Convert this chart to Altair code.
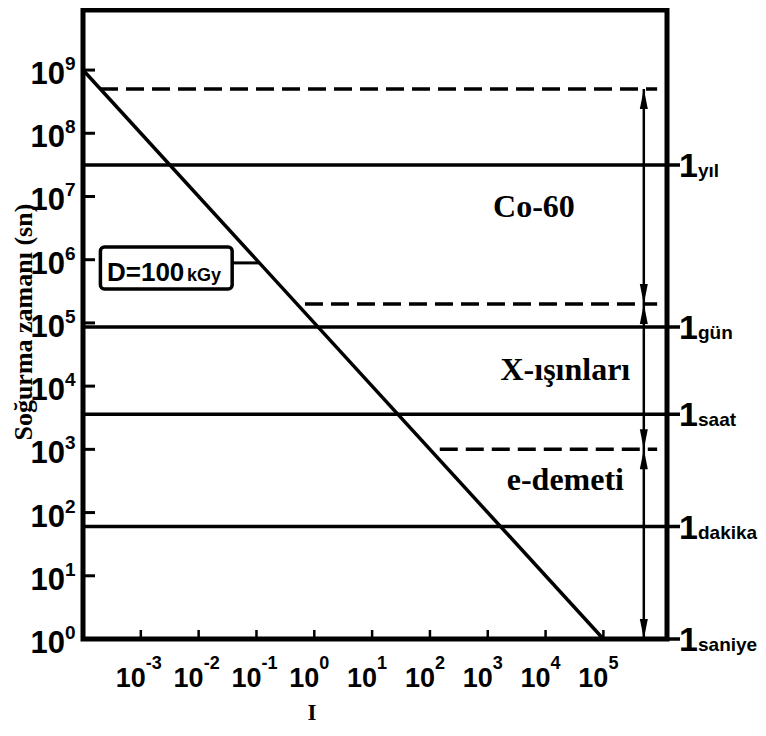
import altair as alt
import pandas as pd

# ---------------- data ----------------
x_ticks = [1e-3, 1e-2, 1e-1, 1e0, 1e1, 1e2, 1e3, 1e4, 1e5]
x_exps = ["-3", "-2", "-1", "0", "1", "2", "3", "4", "5"]
y_ticks = [1e0, 1e1, 1e2, 1e3, 1e4, 1e5, 1e6, 1e7, 1e8, 1e9]
y_exps = ["0", "1", "2", "3", "4", "5", "6", "7", "8", "9"]

# D = 100 kGy  ->  t = D / I
line_I = [1e-4, 1e5]
line_t = [1e9, 1e0]

time_names = ["yıl", "gün", "saat", "dakika", "saniye"]
time_secs = [31536000, 86400, 3600, 60, 1]

dash_levels = [5e8, 2e5, 1e3]
dash_start = [1.97e-4, 0.69, 148]
dash_end = [8.5e5, 8.5e5, 8.5e5]

arrow_x = 5.0e5
arrow_up = [5e8, 2e5, 1e3]
arrow_down = [2e5, 1e3, 1e0]

region_names = ["Co-60", "X-ışınları", "e-demeti"]
region_I = [6.3e3, 2.2e4, 2.2e4]
region_t = [4.7e6, 1.25e4, 228]

box_I = [2.0e-4, 0.038]
box_t = [1.59e6, 3.44e5]
leader_t = 8.9e5
leader_I_end = 0.112
dose_text_I = [2.6e-4, 6.3e-3]
dose_text_t = 4.6e5
dose_texts = ["D=100", "kGy"]

x_title = "I"
x_title_I = 0.91
y_title = "Soğurma zamanı (sn)"
y_title_t = 1.03e5

# ---------------- layout / style ----------------
W, H = 584, 629
SANS = "Liberation Sans, Arial, sans-serif"
SERIF = "Liberation Serif, Times New Roman, serif"

xs = alt.Scale(type="log", domain=[1e-4, 10 ** 6.1], nice=False)
ys = alt.Scale(type="log", domain=[1, 10 ** 9.95], nice=False)


def X(f):
    return alt.X(f, type="quantitative", scale=xs, axis=None)


def Y(f):
    return alt.Y(f, type="quantitative", scale=ys, axis=None)


diag = alt.Chart(pd.DataFrame({"I": line_I, "t": line_t})).mark_line(
    color="black", strokeWidth=3.5
).encode(x=X("I"), y=Y("t"))

tdf = pd.DataFrame({"name": time_names, "sec": time_secs, "one": ["1"] * len(time_names)})
time_lines = alt.Chart(tdf).mark_rule(color="black", strokeWidth=3.5).encode(
    x=alt.value(0), x2=alt.value(W + 13), y=Y("sec")
)
time_one = alt.Chart(tdf).mark_text(
    font=SANS, fontWeight="bold", fontSize=34, align="left", baseline="alphabetic", dy=12
).encode(x=alt.value(W + 12), y=Y("sec"), text="one")
time_word = alt.Chart(tdf).mark_text(
    font=SANS, fontWeight="bold", fontSize=19, align="left", baseline="alphabetic", dy=12
).encode(x=alt.value(W + 31), y=Y("sec"), text="name")

ddf = pd.DataFrame({"level": dash_levels, "start": dash_start, "end": dash_end})
dashed = alt.Chart(ddf).mark_rule(color="black", strokeWidth=3.5, strokeDash=[18, 8]).encode(
    x=X("start"), x2="end", y=Y("level")
)

shaft = alt.Chart(pd.DataFrame({"x": [arrow_x], "top": [arrow_up[0]], "bot": [arrow_down[-1]]})).mark_rule(
    color="black", strokeWidth=2.5
).encode(x=X("x"), y=Y("top"), y2="bot")

up_heads = alt.Chart(pd.DataFrame({"x": [arrow_x] * 3, "t": arrow_up})).mark_point(
    shape="M0,0L0.4,2L-0.4,2Z", size=400, filled=True, color="black", opacity=1
).encode(x=X("x"), y=Y("t"))
down_heads = alt.Chart(pd.DataFrame({"x": [arrow_x] * 3, "t": arrow_down})).mark_point(
    shape="M0,0L0.4,-2L-0.4,-2Z", size=400, filled=True, color="black", opacity=1
).encode(x=X("x"), y=Y("t"))

ydf = pd.DataFrame({"t": y_ticks, "exp": y_exps, "ten": ["10"] * len(y_ticks)})
y_tick_marks = alt.Chart(ydf[ydf.t > 1]).mark_rule(color="black", strokeWidth=3).encode(
    x=alt.value(0), x2=alt.value(12), y=Y("t")
)
y_ten = alt.Chart(ydf).mark_text(
    font=SANS, fontWeight="bold", fontSize=31, align="right", baseline="alphabetic", dy=14
).encode(x=alt.value(-18), y=Y("t"), text="ten")
y_exp = alt.Chart(ydf).mark_text(
    font=SANS, fontWeight="bold", fontSize=19, align="left", baseline="alphabetic", dy=0
).encode(x=alt.value(-18), y=Y("t"), text="exp")

xdf = pd.DataFrame({"I": x_ticks, "exp": x_exps, "ten": ["10"] * len(x_ticks)})
x_tick_marks = alt.Chart(xdf).mark_rule(color="black", strokeWidth=2.5).encode(
    x=X("I"), y=alt.value(H), y2=alt.value(H - 9)
)
x_ten = alt.Chart(xdf).mark_text(
    font=SANS, fontWeight="bold", fontSize=27, align="right", baseline="alphabetic", dx=5
).encode(x=X("I"), y=alt.value(H + 48), text="ten")
x_exp = alt.Chart(xdf).mark_text(
    font=SANS, fontWeight="bold", fontSize=18, align="left", baseline="alphabetic", dx=5
).encode(x=X("I"), y=alt.value(H + 30), text="exp")

rdf = pd.DataFrame({"name": region_names, "I": region_I, "t": region_t})
regions = alt.Chart(rdf).mark_text(
    font=SERIF, fontWeight="bold", fontSize=32, align="center", baseline="alphabetic"
).encode(x=X("I"), y=Y("t"), text="name")

box = alt.Chart(pd.DataFrame({"x1": [box_I[0]], "x2": [box_I[1]], "y1": [box_t[0]], "y2": [box_t[1]]})).mark_rect(
    fill="white", stroke="black", strokeWidth=3.5, cornerRadius=4
).encode(x=X("x1"), x2="x2", y=Y("y1"), y2="y2")
leader = alt.Chart(pd.DataFrame({"a": [box_I[1]], "b": [leader_I_end], "t": [leader_t]})).mark_rule(
    color="black", strokeWidth=3
).encode(x=X("a"), x2="b", y=Y("t"))
dose_big = alt.Chart(pd.DataFrame({"I": [dose_text_I[0]], "t": [dose_text_t], "s": [dose_texts[0]]})).mark_text(
    font=SANS, fontWeight="bold", fontSize=26, align="left", baseline="alphabetic"
).encode(x=X("I"), y=Y("t"), text="s")
dose_small = alt.Chart(pd.DataFrame({"I": [dose_text_I[1]], "t": [dose_text_t], "s": [dose_texts[1]]})).mark_text(
    font=SANS, fontWeight="bold", fontSize=18, align="left", baseline="alphabetic"
).encode(x=X("I"), y=Y("t"), text="s")

xt = alt.Chart(pd.DataFrame({"I": [x_title_I], "s": [x_title]})).mark_text(
    font=SERIF, fontWeight="bold", fontSize=23, align="center", baseline="alphabetic"
).encode(x=X("I"), y=alt.value(H + 81), text="s")
yt = alt.Chart(pd.DataFrame({"t": [y_title_t], "s": [y_title]})).mark_text(
    font=SERIF, fontWeight="bold", fontSize=26, align="center", baseline="middle", angle=270
).encode(x=alt.value(-59), y=Y("t"), text="s")

chart = alt.layer(
    time_lines, dashed, diag, shaft, up_heads, down_heads,
    y_tick_marks, x_tick_marks, box, leader, dose_big, dose_small,
    regions, time_one, time_word, y_ten, y_exp, x_ten, x_exp, xt, yt,
).properties(
    width=W, height=H,
    autosize=alt.AutoSizeParams(type="none"),
    padding={"left": 75, "top": 2, "right": 91, "bottom": 89},
).configure_view(stroke="black", strokeWidth=5)

chart.save("out.html", embed_options={"renderer": "svg", "actions": False})
